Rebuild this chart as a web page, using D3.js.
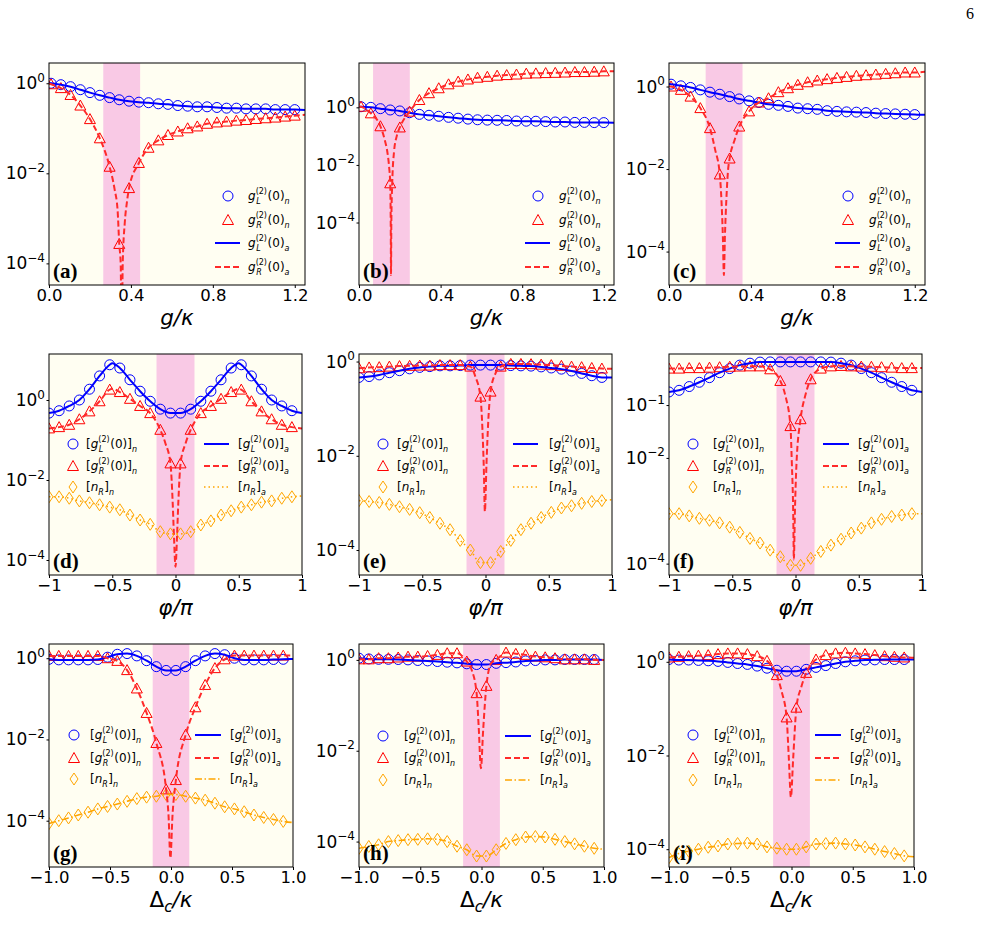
<!DOCTYPE html>
<html><head><meta charset="utf-8">
<script src="https://cdn.jsdelivr.net/npm/d3@7/dist/d3.min.js"></script>
<style>body{margin:0;background:#fff;} text{font-family:"DejaVu Sans",sans-serif;}</style>
</head><body>
<script>
// ---------------- DATA ----------------
// x grids of the numerical (marker) points
const gGrid   = [0.010,0.058,0.105,0.153,0.200,0.248,0.296,0.343,0.391,0.439,0.486,0.534,0.581,0.629,0.677,0.724,0.772,0.820,0.867,0.915,0.962,1.010,1.058,1.105,1.153,1.200];
const phiGrid = [-1,-0.92,-0.84,-0.76,-0.68,-0.6,-0.52,-0.44,-0.36,-0.28,-0.2,-0.12,-0.04,0.04,0.12,0.2,0.28,0.36,0.44,0.52,0.6,0.68,0.76,0.84,0.92];
const detGrid = [-1,-0.92,-0.84,-0.76,-0.68,-0.6,-0.52,-0.44,-0.36,-0.28,-0.2,-0.12,-0.04,0.04,0.12,0.2,0.28,0.36,0.44,0.52,0.6,0.68,0.76,0.84,0.92];

// tick labels
const gTicks = [0.0,0.4,0.8,1.2];
const gTickLabels = ["0.0","0.4","0.8","1.2"];
const phiTicks = [-1,-0.5,0,0.5,1];
const phiTickLabels = ["\u22121","\u22120.5","0","0.5","1"];
const detTicks = [-1,-0.5,0,0.5,1];
const detTickLabels = ["\u22121.0","\u22120.5","0.0","0.5","1.0"];
const yTicksStd = [1,1e-2,1e-4];
const yTicksF = [1e-1,1e-2,1e-4];

// shaded bands [from, to]
const bandA = [0.265,0.445], bandB = [0.069,0.249], bandC = [0.179,0.359];
const bandPhi = [-0.15,0.15], bandDet = [-0.15,0.15];

// panel (a)
const a_gL_n = [1.0,0.93,0.84,0.72,0.62,0.54,0.48,0.43,0.40,0.38,0.37,0.35,0.34,0.32,0.31,0.30,0.30,0.29,0.28,0.28,0.27,0.27,0.27,0.26,0.26,0.26];
const a_gR_n = [0.95,0.78,0.55,0.32,0.16,0.060,0.014,2.7e-4,4.7e-3,0.017,0.037,0.054,0.071,0.085,0.10,0.11,0.126,0.135,0.141,0.148,0.153,0.161,0.167,0.173,0.182,0.191];
const a_gL_a = [[0,1.02],[1.25,0.255]];
const a_gR_a = [[0,0.98],[0.32,4.5e-3],[0.335,1.5e-3],[0.35,1e-4],[0.355,1e-6],[0.36,1e-4],[0.37,8e-4],[0.38,2.2e-3],[1.25,0.2]];
// panel (b)
const b_gL_n = [1.05,1.0,0.90,0.81,0.75,0.65,0.57,0.53,0.49,0.45,0.42,0.39,0.37,0.36,0.355,0.35,0.335,0.33,0.33,0.32,0.31,0.31,0.30,0.30,0.295,0.295];
const b_gR_n = [1.05,0.62,0.22,2.3e-3,0.20,0.71,1.8,3.1,4.6,6.3,7.8,9.3,10.7,11.5,12.6,13.2,13.8,14.8,15.1,15.5,15.8,16.2,16.8,16.8,17.3,17.8];
const b_gL_a = [[0,1.05],[1.25,0.29]];
const b_gR_a = [[0,1.08],[0.125,0.08],[0.14,0.025],[0.148,8e-3],[0.1555,1e-4],[0.157,1.5e-6],[0.1585,1e-4],[0.163,2.5e-3],[0.172,0.03],[0.185,0.1],[1.25,18]];
// panel (c)
const c_gL_n = [1.14,1.04,0.95,0.83,0.73,0.65,0.57,0.50,0.45,0.41,0.37,0.35,0.33,0.30,0.29,0.28,0.26,0.25,0.243,0.239,0.234,0.226,0.221,0.217,0.213,0.209];
const c_gR_n = [1.0,0.83,0.57,0.30,0.098,7.4e-3,0.018,0.107,0.25,0.41,0.52,0.73,0.91,1.10,1.27,1.40,1.51,1.62,1.71,1.82,1.88,1.95,2.03,2.10,2.19,2.19];
const c_gL_a = [[0,1.15],[1.25,0.206]];
const c_gR_a = [[0,1.02],[0.225,0.03],[0.256,1.8e-3],[0.263,2.3e-4],[0.268,2.7e-5],[0.273,2.3e-4],[0.28,1.8e-3],[0.288,9e-3],[0.32,0.05],[1.25,2.27]];
// panel (d)
const d_gL_n = [0.47,0.54,0.71,1.0,1.86,4.0,7.6,6.3,3.2,1.66,0.93,0.59,0.47,0.47,0.59,0.93,1.66,3.2,6.3,7.6,4.0,1.86,1.0,0.71,0.54];
const d_gR_n = [0.195,0.21,0.24,0.33,0.52,0.93,1.82,1.58,1.07,0.71,0.47,0.18,0.026,0.026,0.18,0.47,0.71,1.07,1.58,1.82,0.93,0.52,0.33,0.24,0.21];
const d_nR_n = [3.8e-3,3.8e-3,3.5e-3,3.0e-3,2.7e-3,2.4e-3,2.1e-3,1.8e-3,1.33e-3,1.0e-3,7.8e-4,5.1e-4,4.5e-4,4.5e-4,5.1e-4,7.5e-4,9.5e-4,1.33e-3,1.7e-3,2.1e-3,2.4e-3,2.8e-3,3.0e-3,3.5e-3,3.8e-3];
const d_gL_a = [[-0.5,8.3],[0.5,8.3],[1,0.47]];
const d_gR_a = [[-0.5,1.9],[-0.08,0.083],[-0.022,2.6e-3],[-0.012,3.8e-4],[0,6.8e-5],[0.012,3.8e-4],[0.022,2.6e-3],[0.08,0.083],[0.5,1.9],[1,0.195]];
const d_nR_a = [[1,4e-3]];
// panel (e)
const e_gL_n = [0.46,0.48,0.52,0.58,0.64,0.70,0.75,0.78,0.81,0.81,0.82,0.84,0.84,0.84,0.84,0.82,0.81,0.80,0.77,0.73,0.69,0.63,0.56,0.50,0.46];
const e_gR_n = [0.72,0.75,0.76,0.78,0.80,0.81,0.82,0.82,0.84,0.84,0.84,0.78,0.18,0.23,0.78,0.89,0.89,0.88,0.86,0.84,0.81,0.78,0.76,0.73,0.71];
const e_nR_n = [1.12e-3,1.07e-3,1.02e-3,9.3e-4,8.3e-4,7.3e-4,6.2e-4,4.9e-4,3.7e-4,2.7e-4,1.6e-4,1.0e-4,5.4e-5,5.4e-5,9.3e-5,1.6e-4,2.7e-4,3.7e-4,4.9e-4,6.3e-4,7.8e-4,8.7e-4,9.8e-4,1.07e-3,1.12e-3];
const e_gL_a = [[1,0.457]];
const e_gR_a = [[-0.08,0.48],[-0.024,0.035],[-0.013,5e-3],[-0.005,6.6e-4],[0.008,7e-3],[0.021,0.049],[0.08,0.57],[1,0.70]];
const e_nR_a = [[1,1.17e-3]];
// panel (f)
const f_gL_n = [0.177,0.19,0.224,0.27,0.33,0.41,0.49,0.57,0.62,0.65,0.655,0.655,0.655,0.655,0.655,0.655,0.65,0.62,0.57,0.49,0.41,0.33,0.27,0.224,0.19];
const f_gR_n = [0.49,0.49,0.50,0.50,0.51,0.52,0.53,0.535,0.54,0.54,0.475,0.286,0.040,0.054,0.307,0.49,0.54,0.55,0.54,0.535,0.53,0.52,0.51,0.50,0.50];
const f_nR_n = [8.8e-4,8.8e-4,8.0e-4,7.2e-4,6.6e-4,5.9e-4,4.9e-4,3.9e-4,3.0e-4,2.45e-4,1.8e-4,1.35e-4,9.3e-5,9.3e-5,1.26e-4,1.7e-4,2.24e-4,2.9e-4,3.8e-4,4.7e-4,5.9e-4,6.9e-4,7.8e-4,8.3e-4,8.8e-4];
const f_gL_a = [[1,0.177]];
const f_gR_a = [[-0.08,0.15],[-0.029,8e-3],[-0.018,9e-4],[-0.013,1.2e-4],[-0.005,9e-4],[0.008,8e-3],[0.08,0.16],[1,0.50]];
const f_nR_a = [[1,8.8e-4]];
// panel (g)
const g_gL_n = [0.94,0.91,0.91,0.91,0.91,0.93,1.06,1.25,1.30,1.14,0.87,0.62,0.50,0.50,0.62,0.87,1.14,1.30,1.22,1.0,0.91,0.91,0.91,0.93,0.94];
const g_gR_n = [1.14,1.14,1.14,1.14,1.14,1.14,1.0,0.86,0.51,0.18,0.045,8.2e-3,5.9e-4,1.0e-3,0.013,0.062,0.22,0.57,0.94,1.16,1.16,1.16,1.16,1.16,1.16];
const g_nR_n = [8.5e-5,1.0e-4,1.17e-4,1.38e-4,1.62e-4,1.95e-4,2.24e-4,2.57e-4,3.0e-4,3.5e-4,3.8e-4,4.0e-4,4.4e-4,4.4e-4,4.0e-4,3.6e-4,3.2e-4,2.7e-4,2.2e-4,1.95e-4,1.66e-4,1.38e-4,1.2e-4,1.07e-4,9.6e-5];
const g_gL_a = [[1,0.96]];
const g_gR_a = [[-0.02,1.3e-4],[-0.005,1.2e-5],[0.012,1.3e-4],[1,1.16]];
const g_nR_a = [[1,9e-5]];
// panel (h)
const h_gL_n = [1.09,1.05,1.03,1.03,1.02,1.0,0.97,0.95,0.92,0.89,0.86,0.82,0.79,0.79,0.84,0.87,0.90,0.95,0.97,1.0,1.0,1.02,1.02,1.02,1.02];
const h_gR_n = [1.03,1.03,1.09,1.09,1.13,1.18,1.18,1.22,1.29,1.40,1.40,0.92,0.185,0.268,1.0,1.45,1.36,1.29,1.18,1.14,1.09,1.03,1.03,1.03,1.0];
const h_nR_n = [7.1e-5,7.8e-5,8.5e-5,1.0e-4,1.05e-4,1.1e-4,1.12e-4,1.15e-4,1.12e-4,1.0e-4,7.9e-5,6.6e-5,4.8e-5,4.8e-5,6.6e-5,9.1e-5,1.1e-4,1.26e-4,1.29e-4,1.26e-4,1.12e-4,1.0e-4,8.9e-5,7.9e-5,7.1e-5];
const h_gL_a = [[1,1.0]];
const h_gR_a = [[-0.08,0.6],[-0.022,0.03],[-0.005,4.1e-3],[0.014,0.03],[0.08,0.85],[1,1.0]];
const h_nR_a = [[1,6.8e-5]];
// panel (i)
const i_gL_n = [1.12,1.09,1.09,1.07,1.05,1.02,0.97,0.92,0.88,0.81,0.73,0.66,0.63,0.63,0.69,0.76,0.83,0.92,1.0,1.05,1.09,1.10,1.12,1.12,1.12];
const i_gR_n = [1.24,1.28,1.32,1.35,1.39,1.46,1.51,1.51,1.46,1.32,1.05,0.52,0.065,0.105,0.58,1.12,1.39,1.51,1.56,1.51,1.46,1.39,1.32,1.28,1.24];
const i_nR_n = [6.6e-5,8.1e-5,9.1e-5,1.0e-4,1.1e-4,1.17e-4,1.29e-4,1.32e-4,1.35e-4,1.29e-4,1.12e-4,1.05e-4,1.0e-4,1.0e-4,1.12e-4,1.29e-4,1.32e-4,1.35e-4,1.29e-4,1.23e-4,1.12e-4,1.0e-4,8.9e-5,8.1e-5,7.2e-5];
const i_gL_a = [[1,1.12]];
const i_gR_a = [[-0.08,0.23],[-0.022,9e-3],[-0.005,1.3e-3],[0.014,9e-3],[0.08,0.29],[1,1.22]];
const i_nR_a = [[1,6.9e-5]];

// ---------------- STYLE / LAYOUT ----------------
const BLUE = "#0000ff", RED = "#ff0000", REDL = "#ff2a2a", ORANGE = "#ffa500";
const PLOTBG = "#fffef2", PINK = "#f9c9e5";
const rowsY = [[63,285],[354,575],[644,867]];
const colsX = [[[49,305],[359,614],[669,925]],[[49,302],[359,612],[669,922]],[[49,293],[359,604],[669,914]]];

const panels = [
 {id:"a",r:0,c:0,xd:[0,1.25],ye:[-4.48,0.45],band:bandA,grid:gGrid,gL:[a_gL_n,a_gL_a],gR:[a_gR_n,a_gR_a],leg:{mx:228,tx:248,l0:215,l1:240}},
 {id:"b",r:0,c:1,xd:[0,1.25],ye:[-6.17,1.54],band:bandB,grid:gGrid,gL:[b_gL_n,b_gL_a],gR:[b_gR_n,b_gR_a],leg:{mx:538,tx:559,l0:525,l1:550}},
 {id:"c",r:0,c:2,xd:[0,1.25],ye:[-4.81,0.57],band:bandC,grid:gGrid,gL:[c_gL_n,c_gL_a],gR:[c_gR_n,c_gR_a],leg:{mx:848,tx:869,l0:835,l1:860}},
 {id:"d",r:1,c:0,xd:[-1,1],ye:[-4.375,1.15],band:bandPhi,grid:phiGrid,gL:[d_gL_n,d_gL_a],gR:[d_gR_n,d_gR_a],nR:[d_nR_n,d_nR_a],leg:{mx:73,tx:86,l0:204,l1:229,tx2:238,ys:[444,466,487]}},
 {id:"e",r:1,c:1,xd:[-1,1],ye:[-4.53,0.16],band:bandPhi,grid:phiGrid,gL:[e_gL_n,e_gL_a],gR:[e_gR_n,e_gR_a],nR:[e_nR_n,e_nR_a],leg:{mx:383,tx:397,l0:513,l1:538,tx2:549,ys:[444,466,487]}},
 {id:"f",r:1,c:2,xd:[-1,1],ye:[-4.215,-0.034],band:bandPhi,grid:phiGrid,gL:[f_gL_n,f_gL_a],gR:[f_gR_n,f_gR_a],nR:[f_nR_n,f_nR_a],leg:{mx:693,tx:713,l0:823,l1:849,tx2:858,ys:[444,466,487]},yt:yTicksF},
 {id:"g",r:2,c:0,xd:[-1,1],ye:[-5.14,0.35],band:bandDet,grid:detGrid,gL:[g_gL_n,g_gL_a],gR:[g_gR_n,g_gR_a],nR:[g_nR_n,g_nR_a],leg:{mx:74,tx:90,l0:195,l1:221,tx2:230,ys:[735,758,779]}},
 {id:"h",r:2,c:1,xd:[-1,1],ye:[-4.56,0.35],band:bandDet,grid:detGrid,gL:[h_gL_n,h_gL_a],gR:[h_gR_n,h_gR_a],nR:[h_nR_n,h_nR_a],leg:{mx:383,tx:404,l0:505,l1:531,tx2:540,ys:[736,758,780]}},
 {id:"i",r:2,c:2,xd:[-1,1],ye:[-4.38,0.38],band:bandDet,grid:detGrid,gL:[i_gL_n,i_gL_a],gR:[i_gR_n,i_gR_a],nR:[i_nR_n,i_nR_a],leg:{mx:693,tx:714,l0:815,l1:841,tx2:850,ys:[735,758,780]}}
];

const svg = d3.select("body").append("svg").attr("width",981).attr("height",949);
svg.append("rect").attr("width",981).attr("height",949).attr("fill","#fff");
svg.append("text").attr("x",970).attr("y",19).attr("text-anchor","middle")
   .style("font-family","'Liberation Serif',serif").attr("font-size",16).text("6");

const symCircle = "M5,0A5,5 0 1,1 -5,0A5,5 0 1,1 5,0Z";
const symTri = "M0,-5.5L5.5,4.5L-5.5,4.5Z";
const symDia = "M0,-6L4,0L0,6L-4,0Z";

function put(g,x,y,s,size,italic){
  const t=g.append("text").attr("x",x).attr("y",y).attr("font-size",size).text(s);
  if(italic) t.attr("font-style","italic");
  return t.node().getComputedTextLength();
}
// math-like legend label
function mlabel(g,x,y,kind,side,br,nsub){
  let cx=x; const fs=12, ss=8;
  if(br) cx+=put(g,cx,y,"[",fs);
  if(kind==="g"){
    cx+=put(g,cx,y,"g",fs,true);
    const w1=put(g,cx,y-6.5,"(2)",ss), w2=put(g,cx+0.5,y+4,side,ss,true);
    cx+=Math.max(w1,w2+0.5)+0.6;
    cx+=put(g,cx,y,"(0)",fs);
  } else {
    cx+=put(g,cx,y,"n",fs,true);
    cx+=put(g,cx,y+4,side,ss,true)+0.5;
  }
  if(br) cx+=put(g,cx,y,"]",fs);
  put(g,cx,y+4,nsub,ss,true);
}

function merge(grid,vals,extra){
  const pts=grid.map((x,i)=>[x,vals[i]]).concat(extra);
  return pts.sort((p,q)=>p[0]-q[0]);
}

panels.forEach(p=>{
  const [x0,x1]=colsX[p.r][p.c], [y0,y1]=rowsY[p.r];
  const x=d3.scaleLinear().domain(p.xd).range([x0,x1]);
  const y=d3.scaleLog().domain([Math.pow(10,p.ye[0]),Math.pow(10,p.ye[1])]).range([y1,y0]);
  const G=svg.append("g");
  const cid="clip-"+p.id;
  G.append("clipPath").attr("id",cid).append("rect").attr("x",x0).attr("y",y0).attr("width",x1-x0).attr("height",y1-y0);
  G.append("rect").attr("x",x0).attr("y",y0).attr("width",x1-x0).attr("height",y1-y0).attr("fill",PLOTBG);
  const P=G.append("g").attr("clip-path",`url(#${cid})`);
  P.append("rect").attr("x",x(p.band[0])).attr("y",y0).attr("width",x(p.band[1])-x(p.band[0])).attr("height",y1-y0).attr("fill",PINK);

  const line=d3.line().x(d=>x(d[0])).y(d=>y(d[1])).curve(d3.curveMonotoneX);
  const dashOr = p.r===1 ? "1.5,3" : "7,2.5,1.5,2.5";
  const series=[
    {s:p.gL,sym:symCircle,col:BLUE,lc:BLUE,dash:null,w:2},
    {s:p.gR,sym:symTri,col:RED,lc:REDL,dash:"6,3",w:2},
  ];
  if(p.nR) series.push({s:p.nR,sym:symDia,col:ORANGE,lc:ORANGE,dash:dashOr,w:1.6});
  series.forEach(se=>{
    P.append("g").selectAll("path").data(p.grid.map((gx,i)=>[gx,se.s[0][i]])).join("path")
      .attr("d",se.sym).attr("transform",d=>`translate(${x(d[0])},${y(d[1])})`)
      .attr("fill","none").attr("stroke",se.col).attr("stroke-width",1);
  });
  series.forEach(se=>{
    P.append("path").datum(merge(p.grid,se.s[0],se.s[1])).attr("d",line)
      .attr("fill","none").attr("stroke",se.lc).attr("stroke-width",se.w)
      .attr("stroke-dasharray",se.dash);
  });
  // frame
  G.append("rect").attr("x",x0).attr("y",y0).attr("width",x1-x0).attr("height",y1-y0)
    .attr("fill","none").attr("stroke","#000").attr("stroke-width",1);

  // x axis
  const xt = p.r===0?gTicks:(p.r===1?phiTicks:detTicks);
  const xl = p.r===0?gTickLabels:(p.r===1?phiTickLabels:detTickLabels);
  const ax=G.append("g").attr("transform",`translate(0,${y1})`)
    .call(d3.axisBottom(x).tickValues(xt).tickSize(3).tickPadding(1).tickFormat((d,i)=>xl[i]));
  ax.select(".domain").remove();
  ax.selectAll("text").attr("font-size",16.5).attr("fill","#000").style("font-family","'DejaVu Sans',sans-serif");
  // y axis
  const yt=p.yt||yTicksStd;
  const ay=G.append("g").attr("transform",`translate(${x0},0)`)
    .call(d3.axisLeft(y).tickValues(yt).tickSize(2.5).tickFormat(""));
  ay.select(".domain").remove();
  yt.forEach(v=>{
    const k=Math.round(Math.log10(v));
    const t=G.append("text").attr("x",x0-4).attr("y",y(v)+6).attr("text-anchor","end").attr("font-size",17);
    t.append("tspan").text("10");
    t.append("tspan").attr("dy",-7.5).attr("font-size",12).text(k<0?"\u2212"+(-k):String(k));
  });
  // axis titles
  const cx=(x0+x1)/2, by=y1+40;
  const tt=G.append("text").attr("x",cx).attr("y",by).attr("text-anchor","middle").attr("font-size",21.5);
  if(p.r===0){ tt.attr("font-style","italic").text("g/\u03ba"); }
  else if(p.r===1){ tt.attr("font-style","italic").text("\u03c6/\u03c0"); }
  else {
    tt.append("tspan").text("\u0394");
    tt.append("tspan").attr("font-style","italic").attr("font-size",15).attr("dy",5).text("c");
    tt.append("tspan").attr("font-style","italic").attr("dy",-5).text("/\u03ba");
  }
  // panel label
  G.append("text").attr("x",x0+4).attr("y",y1-7).attr("font-size",21).attr("font-weight","bold")
    .style("font-family","'Liberation Serif','Times New Roman',serif").text(`(${p.id})`);

  // legend
  const L=svg.append("g"), lg=p.leg;
  if(p.r===0){
    const ys=[196,220,243,267];
    L.append("path").attr("d",symCircle).attr("transform",`translate(${lg.mx},${ys[0]})`).attr("fill","none").attr("stroke",BLUE);
    mlabel(L,lg.tx,ys[0]+4,"g","L",false,"n");
    L.append("path").attr("d",symTri).attr("transform",`translate(${lg.mx},${ys[1]})`).attr("fill","none").attr("stroke",RED);
    mlabel(L,lg.tx,ys[1]+4,"g","R",false,"n");
    L.append("line").attr("x1",lg.l0).attr("x2",lg.l1).attr("y1",ys[2]).attr("y2",ys[2]).attr("stroke",BLUE).attr("stroke-width",2);
    mlabel(L,lg.tx,ys[2]+4,"g","L",false,"a");
    L.append("line").attr("x1",lg.l0).attr("x2",lg.l1).attr("y1",ys[3]).attr("y2",ys[3]).attr("stroke",REDL).attr("stroke-width",2).attr("stroke-dasharray","6,3");
    mlabel(L,lg.tx,ys[3]+4,"g","R",false,"a");
  } else {
    const ys=lg.ys;
    [[symCircle,BLUE,"g","L"],[symTri,RED,"g","R"],[symDia,ORANGE,"n","R"]].forEach((m,i)=>{
      L.append("path").attr("d",m[0]).attr("transform",`translate(${lg.mx},${ys[i]})`).attr("fill","none").attr("stroke",m[1]);
      mlabel(L,lg.tx,ys[i]+4,m[2],m[3],true,"n");
    });
    [[BLUE,null,2,"g","L"],[REDL,"6,3",2,"g","R"],[ORANGE,dashOr,1.6,"n","R"]].forEach((m,i)=>{
      L.append("line").attr("x1",lg.l0).attr("x2",lg.l1).attr("y1",ys[i]).attr("y2",ys[i])
        .attr("stroke",m[0]).attr("stroke-width",m[2]).attr("stroke-dasharray",m[1]);
      mlabel(L,lg.tx2,ys[i]+4,m[3],m[4],true,"a");
    });
  }
});
</script>
</body></html>
